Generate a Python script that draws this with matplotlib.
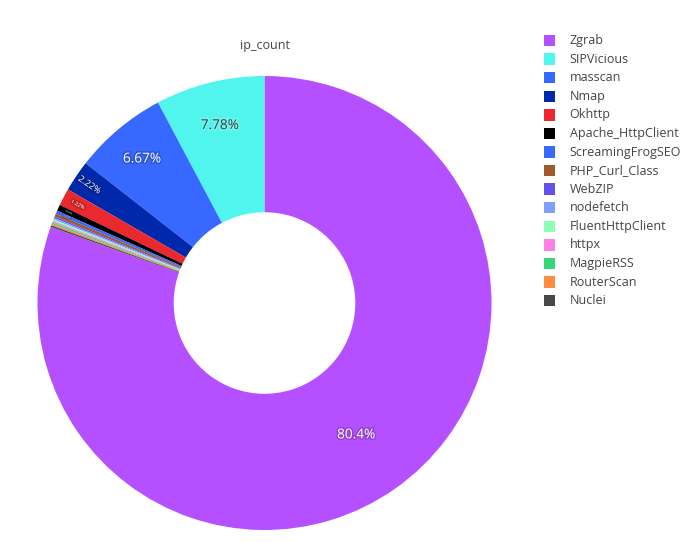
import matplotlib
matplotlib.use("Agg")
import matplotlib.pyplot as plt
import matplotlib.patheffects as pe
from matplotlib.patches import Rectangle
import numpy as np

labels = ["Zgrab", "SIPVicious", "masscan", "Nmap", "Okhttp", "Apache_HttpClient",
          "ScreamingFrogSEO", "PHP_Curl_Class", "WebZIP", "nodefetch",
          "FluentHttpClient", "httpx", "MagpieRSS", "RouterScan", "Nuclei"]
ip_count = [724, 70, 60, 20, 11, 4, 2, 2, 1, 1, 1, 1, 1, 1, 1]
colors = ["#B450FF", "#50F5EE", "#3768FF", "#0028AA", "#EB282D", "#000000",
          "#3768FF", "#A05A2D", "#6450EB", "#80A0FF", "#8CFFB4", "#FF80E1",
          "#37D778", "#FF8C40", "#484848"]

W, H = 700, 542
fig = plt.figure(figsize=(W / 100, H / 100), dpi=100)
cx, cy, R = 264.5, 303.0, 227.0
ax = fig.add_axes([(cx - R) / W, (H - cy - R) / H, 2 * R / W, 2 * R / H])

hole = 0.4
total = float(sum(ip_count))
start = 90 - 360 * ip_count[0] / total
wedges, _ = ax.pie(ip_count, colors=colors, startangle=start, counterclock=True,
                   radius=1.0, wedgeprops=dict(width=1 - hole, linewidth=0))
ax.set_xlim(-1, 1)
ax.set_ylim(-1, 1)
ax.set_aspect("equal")
ax.axis("off")

font = "Open Sans"
for i, (w, v) in enumerate(zip(wedges, ip_count)):
    pct = v / total * 100
    txt = f"{pct:.3g}%"
    mid = np.deg2rad((w.theta1 + w.theta2) / 2)
    if i == 0:
        r, fs, rot, col = 0.70, 9.8, 0, "white"
    elif i == 1:
        r, fs, rot, col = 0.815, 9.8, 0, "#444444"
    elif i == 2:
        r, fs, rot, col = 0.84, 9.8, 0, "white"
    elif i == 3:
        r, fs, rot, col = 0.93, 6.5, None, "white"
    elif i == 4:
        r, fs, rot, col = 0.93, 3.8, None, "white"
    elif i in (5, 6):
        r, fs, rot, col = 0.95, 1.6, None, "white"
    else:
        continue
    dy = -0.009 if rot == 0 else 0.0
    if rot is None:
        rot = np.rad2deg(mid)
        if rot > 90:
            rot -= 180
        elif rot < -90:
            rot += 180
    x, y = r * np.cos(mid), r * np.sin(mid) + dy
    shadow = "black" if col == "white" else "white"
    ax.text(x, y, txt, ha="center", va="center", rotation=rot, fontsize=fs,
            family=font, color=col, rotation_mode="anchor",
            path_effects=[pe.withStroke(linewidth=2.2, foreground=shadow, alpha=0.18)])

fig.text(265 / W, 1 - 45 / H, "ip_count", ha="center", va="center",
         family=font, fontsize=9, color="#444444")

# legend
top_y, step = 40.6, 18.57
sq = 11.5
for i, (lab, c) in enumerate(zip(labels, colors)):
    yc = top_y + i * step
    fig.patches.append(Rectangle(((543.5) / W, 1 - (yc + sq / 2) / H), sq / W, sq / H,
                                 transform=fig.transFigure, facecolor=c,
                                 edgecolor="none"))
    fig.text(569.5 / W, 1 - yc / H, lab, ha="left", va="center", family=font,
             fontsize=9.0, color="#444444")

fig.savefig("out.png", dpi=100, facecolor="white")
